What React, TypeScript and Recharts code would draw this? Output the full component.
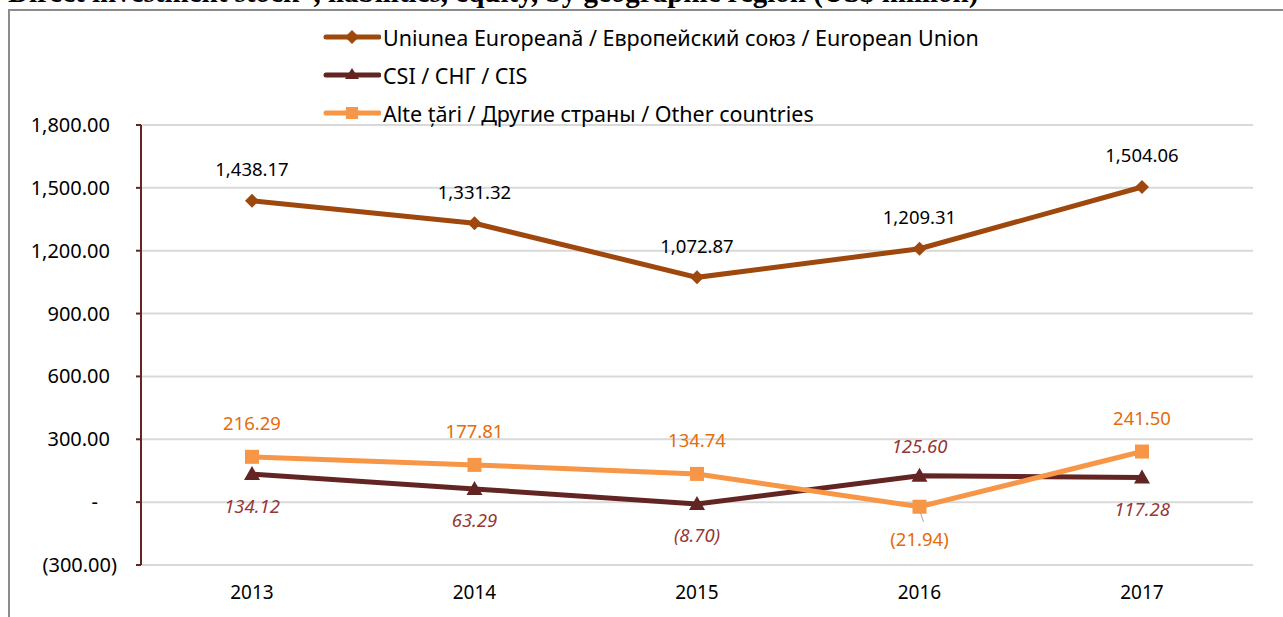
import React from 'react';
import { LineChart, Line, XAxis, YAxis, CartesianGrid } from 'recharts';

const years = ['2013', '2014', '2015', '2016', '2017'];
const euValues = [1438.17, 1331.32, 1072.87, 1209.31, 1504.06];
const cisValues = [134.12, 63.29, -8.7, 125.6, 117.28];
const otherValues = [216.29, 177.81, 134.74, -21.94, 241.5];
const yTicks = [-300, 0, 300, 600, 900, 1200, 1500, 1800];

const seriesNames = {
  eu: 'Uniunea Europeană / Европейский союз / European Union',
  cis: 'CSI / СНГ / CIS',
  other: 'Alte țări / Другие страны / Other countries',
};
const titleText = 'Direct investment stock*, liabilities, equity, by geographic region (US$ million)';

const data = years.map((y, i) => ({ year: y, eu: euValues[i], cis: cisValues[i], other: otherValues[i] }));

const EU_COLOR = '#9E480E';
const CIS_COLOR = '#632523';
const OTHER_COLOR = '#F79646';
const CIS_LABEL = '#953735';
const OTHER_LABEL = '#E46C0A';
const FONT = '"Noto Sans", sans-serif';

const fmt = (v: number) => {
  const s = Math.abs(v).toLocaleString('en-US', { minimumFractionDigits: 2, maximumFractionDigits: 2 });
  return v < 0 ? `(${s})` : s;
};

const YTick = (props: any) => {
  const { x, y, payload } = props;
  const v = payload.value;
  let text = fmt(v);
  let dx = 0;
  if (v === 0) { text = '-'; dx = -12; }
  else if (v < 0) { dx = 7; }
  return (
    <text x={x + dx} y={y} dy="0.35em" textAnchor="end" fontFamily={FONT} fontSize={20} fill="#000">
      {text}
    </text>
  );
};

const XTick = (props: any) => {
  const { x, y, payload } = props;
  return (
    <text x={x} y={y} dy="0.71em" textAnchor="middle" fontFamily={FONT} fontSize={19} fill="#000">
      {payload.value}
    </text>
  );
};

const EuLabel = (props: any) => {
  const { x, y, value } = props;
  return (
    <text x={x} y={y - 31} dy="0.35em" textAnchor="middle" fontFamily={FONT} fontSize={18.5} fill="#000">
      {fmt(value)}
    </text>
  );
};

const CisLabel = (props: any) => {
  const { x, y, value, index } = props;
  const above = index === 3;
  return (
    <text x={x} y={above ? y - 29 : y + 32} dy="0.35em" textAnchor="middle" fontFamily={FONT} fontSize={18.5} fontStyle="italic" fill={CIS_LABEL}>
      {fmt(value)}
    </text>
  );
};

const OtherLabel = (props: any) => {
  const { x, y, value, index } = props;
  const below = index === 3;
  return (
    <g>
      {below && <line x1={x + 1} y1={y + 6} x2={x + 4} y2={y + 15} stroke="#A6A6A6" strokeWidth={1} />}
      <text x={x} y={below ? y + 33 : y - 33} dy="0.35em" textAnchor="middle" fontFamily={FONT} fontSize={18.5} fill={OTHER_LABEL}>
        {fmt(value)}
      </text>
    </g>
  );
};

const Diamond = (props: any) => {
  const { cx, cy } = props;
  if (cx == null || cy == null) return null;
  const r = 7;
  return <polygon points={`${cx},${cy - r} ${cx + r},${cy} ${cx},${cy + r} ${cx - r},${cy}`} fill={EU_COLOR} />;
};
const Triangle = (props: any) => {
  const { cx, cy } = props;
  if (cx == null || cy == null) return null;
  return <polygon points={`${cx},${cy - 8} ${cx + 8},${cy + 6} ${cx - 8},${cy + 6}`} fill={CIS_COLOR} />;
};
const Square = (props: any) => {
  const { cx, cy } = props;
  if (cx == null || cy == null) return null;
  return <rect x={cx - 7} y={cy - 7} width={14} height={14} fill={OTHER_COLOR} />;
};

const legendItems = [
  { key: 'eu', color: EU_COLOR, shape: 'diamond' },
  { key: 'cis', color: CIS_COLOR, shape: 'triangle' },
  { key: 'other', color: OTHER_COLOR, shape: 'square' },
];

const LegendIcon = ({ color, shape }: { color: string; shape: string }) => (
  <svg width={58} height={20} style={{ display: 'block' }}>
    <line x1={3} y1={10} x2={56} y2={10} stroke={color} strokeWidth={5} strokeLinecap="round" />
    {shape === 'diamond' && <polygon points="29,3 36,10 29,17 22,10" fill={color} />}
    {shape === 'triangle' && <polygon points="29,3 36,14 22,14" fill={color} />}
    {shape === 'square' && <rect x={23} y={4} width={12} height={12} fill={color} />}
  </svg>
);

export default function App() {
  return (
    <div style={{ position: 'absolute', left: 0, top: 0, width: 1283, height: 617, overflow: 'hidden', background: '#fff' }}>
      <div style={{ position: 'absolute', left: 8, top: -24, fontFamily: '"Liberation Serif", serif', fontWeight: 'bold', fontSize: 29, lineHeight: '32px', whiteSpace: 'nowrap', color: '#000' }}>
        {titleText}
      </div>
      <div style={{ position: 'absolute', left: 8, top: 9, width: 1290, height: 620, borderTop: '2px solid #8c8c8c', borderLeft: '2px solid #8c8c8c' }} />
      <div style={{ position: 'absolute', left: 0, top: 0 }}>
        <LineChart width={1283} height={617} data={data} margin={{ top: 125, right: 30, bottom: 22, left: 21 }}>
          <CartesianGrid vertical={false} stroke="#D9D9D9" strokeWidth={2} />
          <XAxis
            dataKey="year"
            axisLine={false}
            tickLine={false}
            padding={{ left: 111, right: 111 }}
            tick={<XTick />}
            tickMargin={15}
            height={30}
          />
          <YAxis
            domain={[-300, 1800]}
            ticks={yTicks}
            interval={0}
            width={120}
            axisLine={{ stroke: '#632523', strokeWidth: 2 }}
            tickLine={{ stroke: '#632523', strokeWidth: 2 }}
            tickSize={5}
            tickMargin={26}
            tick={<YTick />}
          />
          <Line dataKey="eu" stroke={EU_COLOR} strokeWidth={5} dot={<Diamond />} activeDot={false} isAnimationActive={false} label={<EuLabel />} />
          <Line dataKey="cis" stroke={CIS_COLOR} strokeWidth={5} dot={<Triangle />} activeDot={false} isAnimationActive={false} label={<CisLabel />} />
          <Line dataKey="other" stroke={OTHER_COLOR} strokeWidth={5} dot={<Square />} activeDot={false} isAnimationActive={false} label={<OtherLabel />} />
        </LineChart>
      </div>
      <div style={{ position: 'absolute', left: 323, top: 18 }}>
        {legendItems.map((it) => (
          <div key={it.key} style={{ display: 'flex', alignItems: 'center', height: 38 }}>
            <LegendIcon color={it.color} shape={it.shape} />
            <span style={{ fontFamily: FONT, fontSize: 21.5, color: '#000', marginLeft: 2, whiteSpace: 'nowrap' }}>
              {(seriesNames as any)[it.key]}
            </span>
          </div>
        ))}
      </div>
    </div>
  );
}
